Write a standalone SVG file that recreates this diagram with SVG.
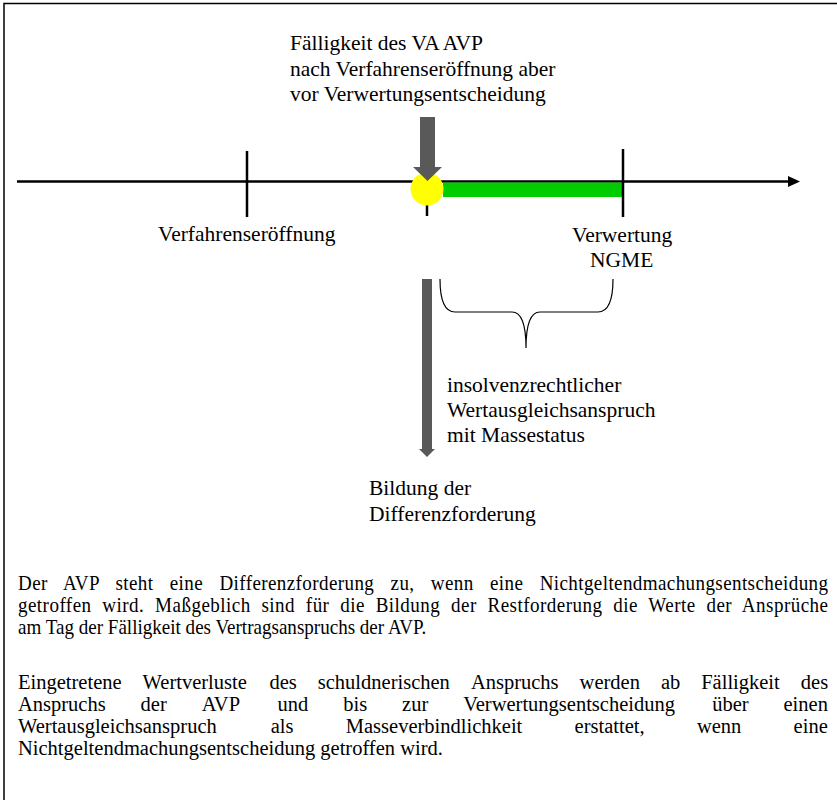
<svg xmlns="http://www.w3.org/2000/svg" width="837" height="800" viewBox="0 0 837 800">
<style>
text{font-family:"Liberation Serif","Times New Roman",serif;fill:#000}
.lbl{font-size:21.5px}
.body{font-size:20.5px}
.p1{font-size:20.5px}
.ln{stroke:#000;stroke-width:2.5;fill:none}
.gray{fill:#595959}
</style>
<rect x="0" y="0" width="837" height="800" fill="#fff"/>
<g id="frame" stroke="#000" stroke-width="1.5" fill="none">
<path d="M4,800 V3.5 H837"/>
</g>
<g id="connectors">
<line class="ln" x1="17" y1="181.5" x2="790" y2="181.5"/>
<polygon points="788,176 800,181.5 788,187" fill="#000"/>
<rect x="443" y="182.5" width="180" height="14.5" fill="#00CC00"/>
<line class="ln" x1="247" y1="151" x2="247" y2="217"/>
<line class="ln" x1="623" y1="149" x2="623" y2="217"/>
<line class="ln" x1="427" y1="205" x2="427" y2="216"/>
<path d="M440,279 Q440,312 455,312 L512,312 Q526,312 526,348 Q526,312 540,312 L598,312 Q613,312 613,279" stroke="#000" stroke-width="1.2" fill="none"/>
<path class="gray" d="M422,279 H432 V449 H435 L427,457 L419,449 H422 Z"/>
</g>
<g id="node-faelligkeit">
<circle cx="427" cy="189" r="16.5" fill="#FFFF00"/>
<path class="gray" d="M420,117 H435 V167 H442 L427.5,181 L413,167 H420 Z"/>
<text class="lbl" x="290" y="50">Fälligkeit des VA AVP</text>
<text class="lbl" x="290" y="76">nach Verfahrenseröffnung aber</text>
<text class="lbl" x="290" y="101">vor Verwertungsentscheidung</text>
</g>
<g id="node-verfahrenseroeffnung">
<text class="lbl" x="158" y="241">Verfahrenseröffnung</text>
</g>
<g id="node-verwertung">
<text class="lbl" x="572" y="242">Verwertung</text>
<text class="lbl" x="590" y="267">NGME</text>
</g>
<g id="node-wertausgleich">
<text class="lbl" x="447" y="392">insolvenzrechtlicher</text>
<text class="lbl" x="447" y="417">Wertausgleichsanspruch</text>
<text class="lbl" x="447" y="442">mit Massestatus</text>
</g>
<g id="node-bildung">
<text class="lbl" x="369" y="495">Bildung der</text>
<text class="lbl" x="369" y="521">Differenzforderung</text>
</g>
<g id="text-para1" class="p1" transform="scale(0.93,1)">
<text x="19.35" y="590" textLength="871" lengthAdjust="spacing" word-spacing="12">Der AVP steht eine Differenzforderung zu, wenn eine Nichtgeltendmachungsentscheidung</text>
<text x="19.35" y="612" textLength="871" lengthAdjust="spacing" word-spacing="6">getroffen wird. Maßgeblich sind für die Bildung der Restforderung die Werte der Ansprüche</text>
<text x="19.35" y="634">am Tag der Fälligkeit des Vertragsanspruchs der AVP.</text>
</g>
<g id="text-para2" class="body">
<text y="689"><tspan x="18">Eingetretene</tspan><tspan x="142.6">Wertverluste</tspan><tspan x="269.5">des</tspan><tspan x="317.8">schuldnerischen</tspan><tspan x="470.9">Anspruchs</tspan><tspan x="579.6">werden</tspan><tspan x="660.9">ab</tspan><tspan x="701.2">Fälligkeit</tspan><tspan x="800.8">des</tspan></text>
<text y="711"><tspan x="18">Anspruchs</tspan><tspan x="140.6">der</tspan><tspan x="201.7">AVP</tspan><tspan x="277.6">und</tspan><tspan x="343.3">bis</tspan><tspan x="402.1">zur</tspan><tspan x="463.2">Verwertungsentscheidung</tspan><tspan x="712.2">über</tspan><tspan x="783.5">einen</tspan></text>
<text y="733"><tspan x="18">Wertausgleichsanspruch</tspan><tspan x="270.7">als</tspan><tspan x="345.8">Masseverbindlichkeit</tspan><tspan x="574.6">erstattet,</tspan><tspan x="696.9">wenn</tspan><tspan x="793.6">eine</tspan></text>
<text x="18" y="755">Nichtgeltendmachungsentscheidung getroffen wird.</text>
</g>
</svg>
